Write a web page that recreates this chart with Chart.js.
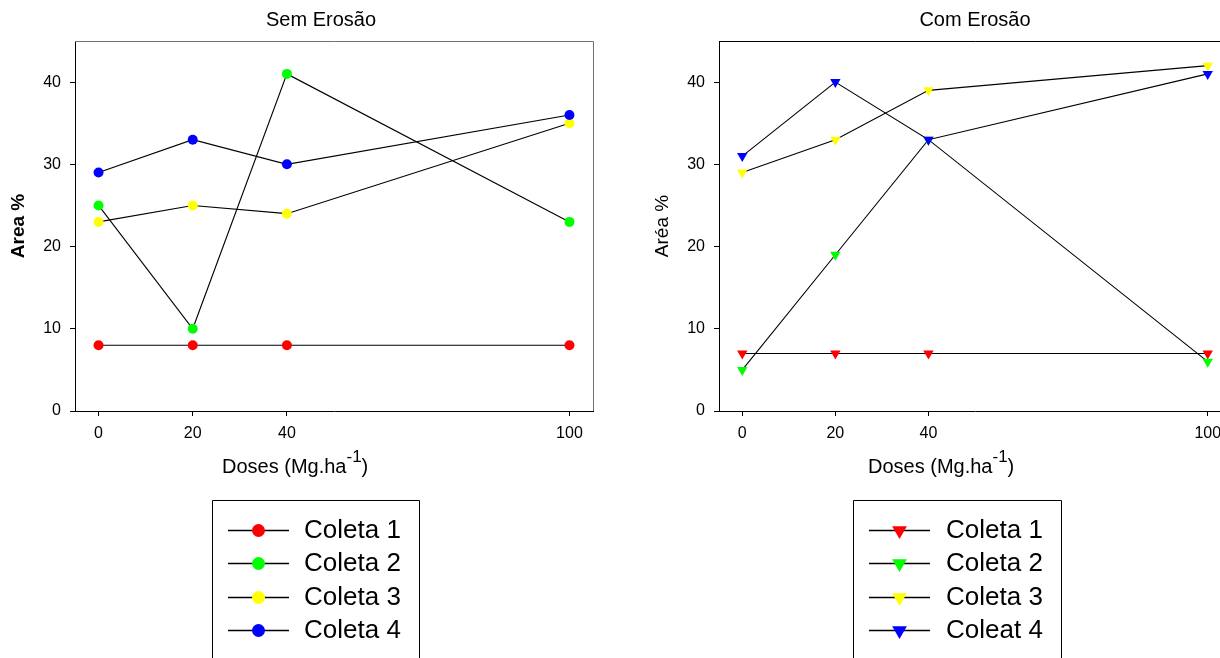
<!DOCTYPE html>
<html>
<head>
<meta charset="utf-8">
<script src="https://cdn.jsdelivr.net/npm/chart.js@4.4.0/dist/chart.umd.min.js"></script>
<style>
  html, body { margin: 0; padding: 0; background: #fff; overflow: hidden; width: 1220px; height: 658px; }
  #left { position: absolute; left: 0; top: 0; width: 610px; height: 658px; }
  #right { position: absolute; left: 610px; top: 0; width: 630px; height: 658px; }
</style>
</head>
<body>
<div id="left"><canvas id="semErosao"></canvas></div>
<div id="right"><canvas id="comErosao"></canvas></div>
<script>
let doses = [0, 20, 40, 100];
let yTicks = [0, 10, 20, 30, 40];
let colors = ["#ff0000", "#00ff00", "#ffff00", "#0000ff"];

let semLabels = ["Coleta 1", "Coleta 2", "Coleta 3", "Coleta 4"];
let semColeta1 = [8, 8, 8, 8];
let semColeta2 = [25, 10, 41, 23];
let semColeta3 = [23, 25, 24, 35];
let semColeta4 = [29, 33, 30, 36];

let comLabels = ["Coleta 1", "Coleta 2", "Coleta 3", "Coleat 4"];
let comColeta1 = [7, 7, 7, 7];
let comColeta2 = [5, 19, 33, 6];
let comColeta3 = [29, 33, 39, 42];
let comColeta4 = [31, 40, 33, 41];

let fontFamily = "'Liberation Sans', Arial, sans-serif";

function toPoints(values) {
  return values.map((v, i) => ({ x: doses[i], y: v }));
}

function buildDatasets(labels, series, pointStyle, radius) {
  return series.map((values, i) => ({
    label: labels[i],
    data: toPoints(values),
    borderColor: "#000",
    borderWidth: 1.1,
    pointStyle: pointStyle,
    pointRotation: pointStyle === "triangle" ? 180 : 0,
    pointRadius: radius,
    pointBackgroundColor: colors[i],
    pointBorderColor: colors[i],
    pointBorderWidth: 0,
    order: series.length - i,
    tension: 0,
  }));
}

function drawMarker(ctx, style, x, y, color) {
  ctx.fillStyle = color;
  ctx.beginPath();
  if (style === "triangle") {
    let r = 8.5;
    ctx.moveTo(x - r * 0.866, y - r / 2);
    ctx.lineTo(x + r * 0.866, y - r / 2);
    ctx.lineTo(x, y + r);
    ctx.closePath();
  } else {
    ctx.arc(x, y, 6.5, 0, Math.PI * 2);
  }
  ctx.fill();
}

// titulo, borda, titulo do eixo x e legenda
let decor = {
  id: "decor",
  afterDraw(chart, args, opts) {
    let ctx = chart.ctx;
    let area = chart.chartArea;
    ctx.save();

    ctx.strokeStyle = opts.boxColor;
    ctx.lineWidth = 1;
    ctx.beginPath();
    ctx.moveTo(Math.round(area.left), Math.round(area.top) + 0.5);
    ctx.lineTo(Math.round(area.right) + 0.5, Math.round(area.top) + 0.5);
    ctx.lineTo(Math.round(area.right) + 0.5, Math.round(area.bottom));
    ctx.stroke();

    ctx.fillStyle = "#000";
    ctx.textAlign = "center";
    ctx.textBaseline = "alphabetic";
    ctx.font = "20px " + fontFamily;
    ctx.fillText(opts.title, opts.titleX, 26);

    // Doses (Mg.ha^-1)
    let main = "Doses (Mg.ha";
    let sup = "-1";
    let close = ")";
    let start = opts.xTitleStart;
    ctx.textAlign = "left";
    ctx.font = "20px " + fontFamily;
    let w1 = ctx.measureText(main).width;
    ctx.fillText(main, start, 473);
    ctx.font = "17px " + fontFamily;
    let w2 = ctx.measureText(sup).width;
    ctx.fillText(sup, start + w1, 462);
    ctx.font = "20px " + fontFamily;
    ctx.fillText(close, start + w1 + w2, 473);

    let lg = opts.legend;
    ctx.strokeStyle = "#000";
    ctx.lineWidth = 1;
    ctx.beginPath();
    ctx.rect(lg.left + 0.5, lg.top + 0.5, lg.right - lg.left, 300);
    ctx.stroke();
    ctx.font = "26px " + fontFamily;
    ctx.textBaseline = "middle";
    chart.data.datasets.forEach((ds, i) => {
      let y = lg.rows[i];
      ctx.strokeStyle = "#000";
      ctx.lineWidth = 1.5;
      ctx.beginPath();
      ctx.moveTo(lg.lineStart, y + 0.5);
      ctx.lineTo(lg.lineEnd, y + 0.5);
      ctx.stroke();
      drawMarker(ctx, opts.pointStyle, (lg.lineStart + lg.lineEnd) / 2, y + 0.5, ds.pointBackgroundColor);
      ctx.fillStyle = "#000";
      ctx.fillText(ds.label, lg.textX, y + 1);
    });
    ctx.restore();
  },
};

function buildChart(canvasId, cfg) {
  return new Chart(document.getElementById(canvasId), {
    type: "line",
    data: { datasets: cfg.datasets },
    plugins: [decor],
    options: {
      responsive: true,
      maintainAspectRatio: false,
      animation: false,
      layout: { padding: { top: 41, right: cfg.padRight, left: 0, bottom: 0 } },
      plugins: {
        legend: { display: false },
        tooltip: { enabled: false },
        decor: {
          title: cfg.title,
          titleX: cfg.titleX,
          xTitleStart: cfg.xTitleStart,
          boxColor: cfg.boxColor,
          pointStyle: cfg.pointStyle,
          legend: cfg.legend,
        },
      },
      scales: {
        x: {
          type: "linear",
          min: -5,
          max: 105,
          afterBuildTicks: (s) => {
            s.ticks = doses.map((v) => ({ value: v }));
          },
          afterFit: (s) => {
            s.height = 247;
          },
          grid: { drawOnChartArea: false, drawTicks: true, tickLength: 5, color: "#000" },
          border: { color: "#000", width: 1 },
          ticks: { color: "#000", font: { family: fontFamily, size: 16 }, padding: 8, maxRotation: 0, autoSkip: false },
        },
        y: {
          min: 0,
          max: 45,
          afterBuildTicks: (s) => {
            s.ticks = yTicks.map((v) => ({ value: v }));
          },
          afterFit: (s) => {
            s.width = cfg.axisLeft;
          },
          grid: { drawOnChartArea: false, drawTicks: true, tickLength: 5, color: "#000" },
          border: { color: "#000", width: 1 },
          ticks: { color: "#000", font: { family: fontFamily, size: 16 }, padding: 9 },
          title: {
            display: true,
            text: cfg.yTitle,
            color: "#000",
            font: { family: fontFamily, size: 19, weight: cfg.yBold ? "bold" : "normal" },
            padding: { top: cfg.yTitlePad, bottom: 0 },
          },
        },
      },
    },
  });
}

buildChart("semErosao", {
  datasets: buildDatasets(semLabels, [semColeta1, semColeta2, semColeta3, semColeta4], "circle", 5),
  title: "Sem Erosão",
  titleX: 321,
  xTitleStart: 222,
  yTitle: "Area %",
  yBold: true,
  yTitlePad: 7,
  axisLeft: 75,
  padRight: 17,
  boxColor: "#707070",
  pointStyle: "circle",
  legend: { left: 212, right: 419, top: 500, lineStart: 228, lineEnd: 289, textX: 304, rows: [530, 563, 597, 630] },
});

buildChart("comErosao", {
  datasets: buildDatasets(comLabels, [comColeta1, comColeta2, comColeta3, comColeta4], "triangle", 6),
  title: "Com Erosão",
  titleX: 365,
  xTitleStart: 258,
  yTitle: "Aréa %",
  yBold: false,
  yTitlePad: 41,
  axisLeft: 109,
  padRight: 9,
  boxColor: "#000",
  pointStyle: "triangle",
  legend: { left: 243, right: 451, top: 500, lineStart: 259, lineEnd: 320, textX: 336, rows: [530, 563, 597, 630] },
});
</script>
</body>
</html>
